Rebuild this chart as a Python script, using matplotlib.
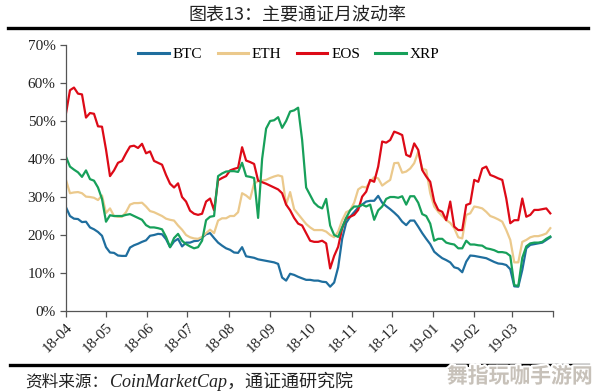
import pandas as pd
import matplotlib
matplotlib.use("Agg")
import matplotlib.pyplot as plt
from matplotlib.lines import Line2D
from matplotlib.ticker import FuncFormatter
import matplotlib.patheffects as pe

# Monthly (rolling) volatility in %, one reading every 3 days from 2018-04-01
btc = [27.3, 25.0, 24.3, 24.2, 23.4, 23.5, 22.0, 21.5, 20.8, 19.8,
       16.8, 15.4, 15.3, 14.6, 14.5, 14.5, 16.7, 17.3, 17.7, 18.2,
       18.6, 19.8, 20.0, 20.3, 20.2, 18.9, 16.8, 18.3, 19.0, 17.0,
       18.0, 18.0, 18.4, 18.5, 19.3, 20.2, 20.5, 19.2, 18.0, 17.2,
       16.5, 16.1, 15.4, 15.3, 16.8, 14.4, 14.2, 14.0, 13.6, 13.4,
       13.2, 13.0, 12.8, 12.4, 8.8, 8.0, 9.8, 9.5, 9.0, 8.6,
       8.2, 8.2, 8.0, 8.0, 7.7, 7.6, 6.4, 7.5, 11.5, 19.0,
       23.2, 24.8, 26.0, 27.2, 28.0, 28.8, 29.0, 29.0, 30.3, 28.5,
       27.6, 26.8, 25.9, 24.9, 23.5, 22.6, 23.8, 23.8, 22.2, 20.5,
       19.0, 17.6, 15.6, 14.7, 13.9, 13.4, 12.8, 11.5, 11.2, 10.2,
       13.0, 14.6, 14.5, 14.3, 14.1, 13.9, 13.4, 12.9, 12.5, 12.4,
       12.1, 11.0, 6.5, 6.4, 10.8, 16.5, 17.4, 17.6, 17.8, 18.0,
       18.7, 19.4]

eth = [34.5, 31.0, 31.2, 31.3, 31.0, 30.1, 30.0, 29.8, 29.2, 30.4,
       25.8, 27.0, 25.0, 24.8, 24.8, 26.0, 28.0, 28.4, 28.4, 28.5,
       27.5, 26.3, 26.0, 25.5, 25.0, 24.3, 24.0, 23.8, 22.5, 21.4,
       20.0, 19.4, 19.1, 19.0, 19.5, 20.5, 21.4, 20.5, 23.8, 24.4,
       24.4, 25.0, 25.0, 26.0, 31.0, 30.4, 29.5, 33.5, 34.2, 34.3,
       34.5, 35.0, 35.4, 35.7, 35.4, 28.0, 31.3, 26.8, 25.5, 24.2,
       22.9, 22.0, 21.3, 21.3, 21.3, 20.9, 20.0, 19.4, 20.9, 23.9,
       26.0, 26.5, 28.5, 32.0, 32.7, 32.5, 34.0, 35.2, 34.9, 33.0,
       33.8, 34.5, 38.9, 39.0, 36.4, 36.7, 37.5, 38.9, 41.9, 37.5,
       37.1, 31.0, 27.5, 26.1, 25.0, 23.9, 23.2, 21.8, 19.4, 19.1,
       25.3, 25.7, 27.5, 27.3, 27.0, 26.1, 25.0, 24.6, 24.1, 23.5,
       21.3, 18.7, 12.8, 12.8, 18.2, 18.7, 19.4, 19.7, 19.7, 20.0,
       20.4, 21.8]

eos = [52.0, 58.1, 58.8, 57.2, 57.0, 50.9, 52.1, 51.9, 48.6, 48.5,
       42.5, 35.5, 37.0, 39.0, 39.5, 41.5, 43.3, 43.5, 42.9, 44.0,
       41.5, 42.0, 39.5, 39.0, 38.5, 35.8, 33.5, 32.5, 33.6, 30.0,
       28.8, 26.4, 25.6, 25.3, 25.6, 28.8, 29.6, 26.5, 34.4, 35.0,
       35.5, 37.0, 37.4, 37.7, 43.1, 39.6, 39.2, 38.7, 34.3, 33.9,
       33.5, 33.0, 32.5, 32.0, 31.0, 28.0, 26.5, 24.5, 23.0, 22.5,
       20.5, 18.5, 18.2, 18.2, 18.5, 17.8, 11.2, 14.5, 16.9, 21.8,
       24.4, 24.8, 25.3, 26.6, 30.1, 31.4, 34.5, 34.0, 38.0, 44.6,
       44.3, 45.0, 47.2, 46.8, 46.3, 41.1, 40.6, 44.1, 42.4, 37.1,
       35.4, 34.0, 28.8, 26.6, 26.1, 23.9, 28.8, 22.2, 21.3, 21.3,
       27.9, 28.3, 34.5, 34.0, 37.5, 38.0, 35.8, 35.4, 34.9, 34.5,
       29.6, 23.1, 23.9, 23.9, 29.6, 24.8, 25.3, 26.6, 26.6, 26.8,
       27.0, 25.7]

xrp = [40.6, 38.0, 37.2, 36.5, 35.3, 37.0, 34.7, 34.3, 32.5, 29.5,
       23.5, 25.2, 25.0, 25.0, 25.0, 25.3, 25.5, 25.0, 24.5, 24.0,
       22.6, 22.0, 22.0, 21.8, 21.5, 19.5, 16.8, 19.2, 20.3, 18.5,
       17.6, 17.0, 16.5, 16.8, 18.5, 23.9, 24.8, 25.0, 35.5, 36.2,
       36.7, 36.8, 36.8, 36.6, 39.0, 35.5, 35.3, 35.0, 24.5, 40.0,
       48.0, 50.0, 50.2, 51.0, 48.2, 50.0, 52.5, 52.8, 53.5, 45.0,
       32.5, 30.5, 28.5, 27.5, 27.0, 29.5, 22.5, 20.0, 19.5, 22.0,
       24.5, 26.5, 27.5, 27.5, 28.0, 27.5, 28.0, 24.0, 26.5, 27.5,
       29.5, 30.0, 30.0, 29.8, 30.2, 28.0, 30.2, 30.2, 28.5, 25.5,
       25.0, 23.0, 18.5, 19.0, 19.0, 18.0, 17.7, 17.5, 16.5, 16.5,
       18.5, 17.5, 17.5, 17.3, 17.2, 16.5, 16.3, 16.0, 15.5, 15.5,
       15.3, 14.5, 6.8, 6.6, 14.0, 17.0, 17.8, 18.0, 18.0, 18.2,
       19.0, 19.6]

names = ["BTC", "ETH", "EOS", "XRP"]
colors = ["#1f6e9e", "#ebc98c", "#dd0a17", "#17a05a"]
month_labels = ["18-04", "18-05", "18-06", "18-07", "18-08", "18-09",
                "18-10", "18-11", "18-12", "19-01", "19-02", "19-03", ""]
y_ticks = [0, 10, 20, 30, 40, 50, 60, 70]

serif = ["Liberation Serif", "Noto Sans CJK SC"]
cjk = ["Noto Sans CJK SC", "DejaVu Sans"]

fig = plt.figure(figsize=(5.96, 3.92), dpi=100)
ax = fig.add_axes([0.1107, 0.2066, 0.8171, 0.6786])

for vals, name, col in zip([btc, eth, eos, xrp], names, colors):
    dates = pd.date_range("2018-04-01", periods=len(vals), freq="3D")
    ax.plot(dates, vals, color=col, lw=1.6, label=name)

months = pd.date_range("2018-04-01", periods=len(month_labels), freq="MS")
ax.set_xlim(months[0], months[-1])
ax.set_xticks(months)
ax.set_xticklabels(month_labels, rotation=45, ha="right",
                   rotation_mode="anchor", family=serif, fontsize=11)
ax.set_ylim(0, 70)
ax.set_yticks(y_ticks)
ax.yaxis.set_major_formatter(FuncFormatter(lambda v, p: "%d%%" % v))
for lab in ax.get_yticklabels():
    lab.set_family(serif)
    lab.set_fontsize(11)

for s in ["top", "right"]:
    ax.spines[s].set_visible(False)
for s in ["left", "bottom"]:
    ax.spines[s].set_color("#555555")
    ax.spines[s].set_linewidth(0.9)
ax.tick_params(direction="out", length=4, width=0.9, color="#555555",
               labelcolor="#222222")
ax.tick_params(axis="x", pad=3)

leg = ax.legend(loc="center", bbox_to_anchor=(0.458, 0.966), ncol=4,
                frameon=False, handlelength=2.0, handletextpad=0.25,
                columnspacing=1.0, prop={"family": serif, "size": 11})
for h in leg.get_lines():
    h.set_linewidth(2.2)

fig.text(0.5, 0.963, "图表13：主要通证月波动率", ha="center", va="center",
         family=cjk, fontsize=13, color="#222222")
fig.add_artist(Line2D([0.014, 0.987], [0.928, 0.928],
                      transform=fig.transFigure, color="black", lw=2.4))
fig.add_artist(Line2D([0.017, 0.987], [0.069, 0.069],
                      transform=fig.transFigure, color="black", lw=2.4))
fig.text(0.042, 0.026, "资料来源：", ha="left", va="center",
         family=cjk, fontsize=12, color="#222222")
fig.text(0.185, 0.026, "CoinMarketCap，通证通研究院", ha="left",
         va="center", family=serif, style="italic", fontsize=13,
         color="#222222")
fig.text(0.995, 0.04, "舞指玩咖手游网", ha="right", va="center",
         family=cjk, fontsize=15, fontweight="bold", color="#c7c1b9",
         path_effects=[pe.withStroke(linewidth=3, foreground="white")])

fig.savefig("out.png", dpi=100)
